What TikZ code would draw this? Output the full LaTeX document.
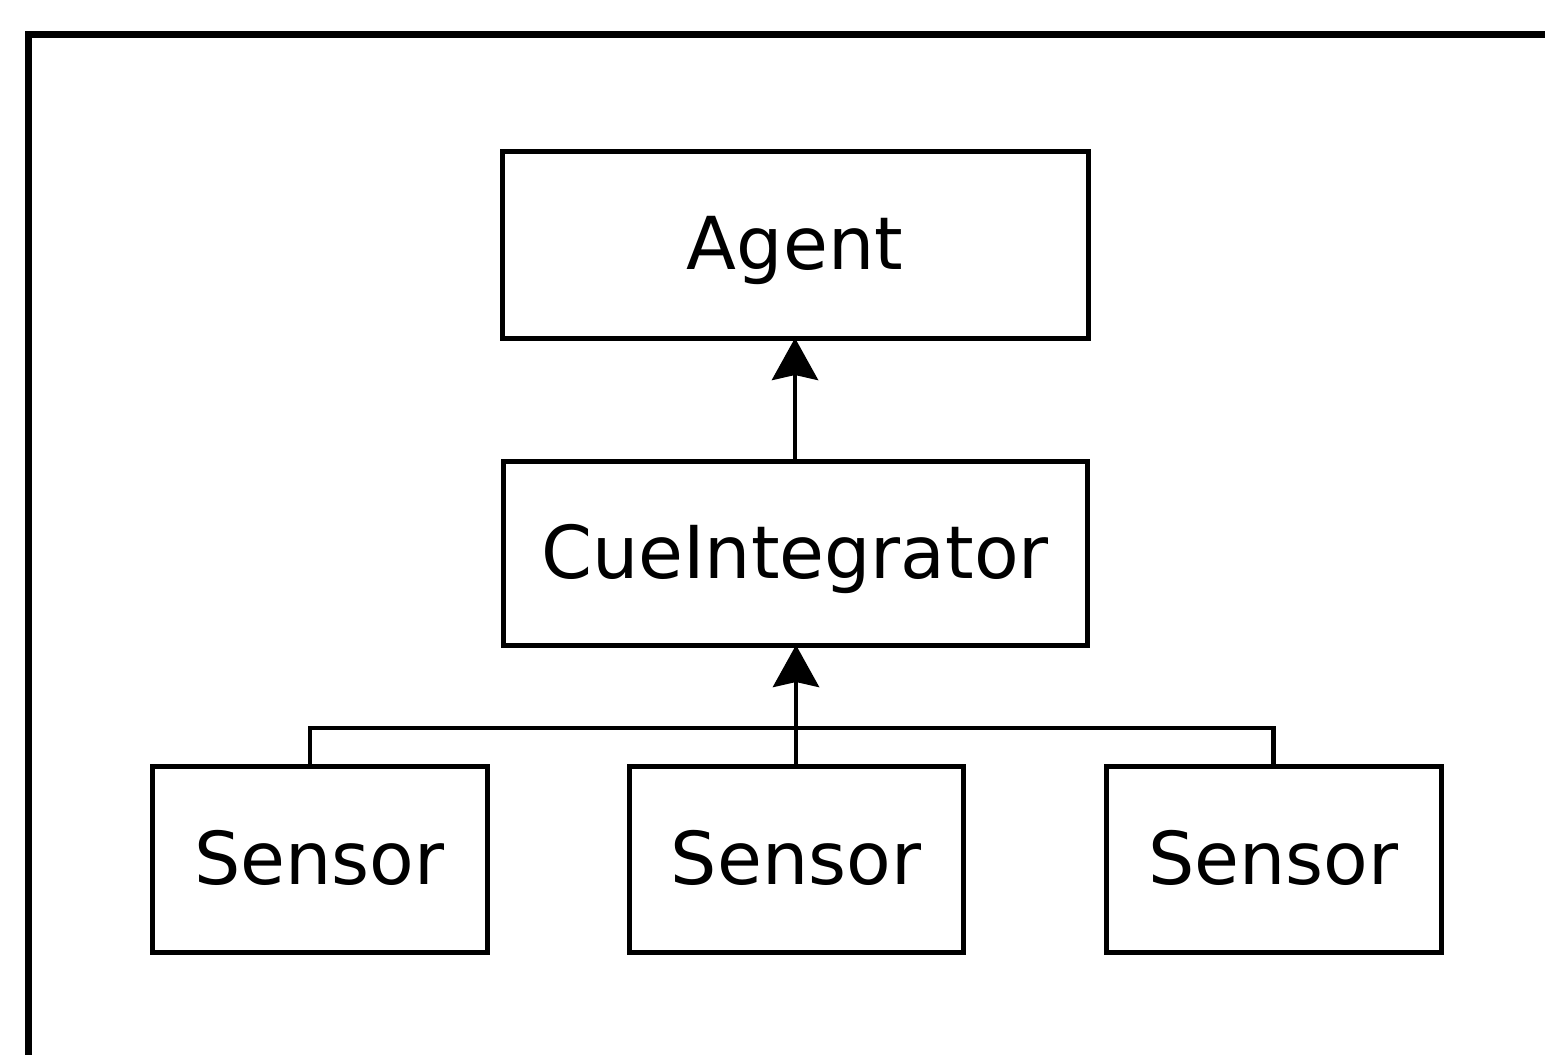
\documentclass[tikz,border=0pt]{standalone}
\usepackage{fontspec}
\setmainfont{DejaVu Sans}
\usetikzlibrary{arrows.meta}
\begin{document}
\begin{tikzpicture}[x=0.5pt,y=-0.5pt,
  box/.style={draw=black,line width=2.5pt,fill=white,outer sep=0pt,inner sep=0pt,
    text depth=2pt,font=\fontsize{36.5}{43}\selectfont},
  link/.style={draw=black,line width=2.4pt},
  arr/.style={link,-{Stealth[length=21pt,width=23pt,inset=2.5pt]}}]
  % page area
  \useasboundingbox (0,0) rectangle (1545,1054);
  \clip (0,0) rectangle (1545,1054);
  \fill[white] (0,0) rectangle (1545,1054);
  % outer frame (open to the right and bottom)
  \draw[line width=3.6pt] (28.5,1100) -- (28.5,34.5) -- (1600,34.5);
  % components
  \node[box,minimum width=293pt,minimum height=93.5pt] (agent) at (795,244.5) {Agent};
  \node[box,minimum width=292pt,minimum height=92pt] (cue) at (795,553) {CueIntegrator};
  \node[box,minimum width=167.5pt,minimum height=93pt] (s1) at (319.5,859) {Sensor};
  \node[box,minimum width=167pt,minimum height=93pt] (s2) at (796,859) {Sensor};
  \node[box,minimum width=167.5pt,minimum height=93pt] (s3) at (1273.5,859) {Sensor};
  % connectors
  \draw[arr] (cue.north) -- (agent.south);
  \draw[link] ([xshift=-4.75pt]s1.north) -- ++(0,-38) -| (s3.north);
  \draw[arr] (s2.north) -- (s2.north |- cue.south);
\end{tikzpicture}
\end{document}
